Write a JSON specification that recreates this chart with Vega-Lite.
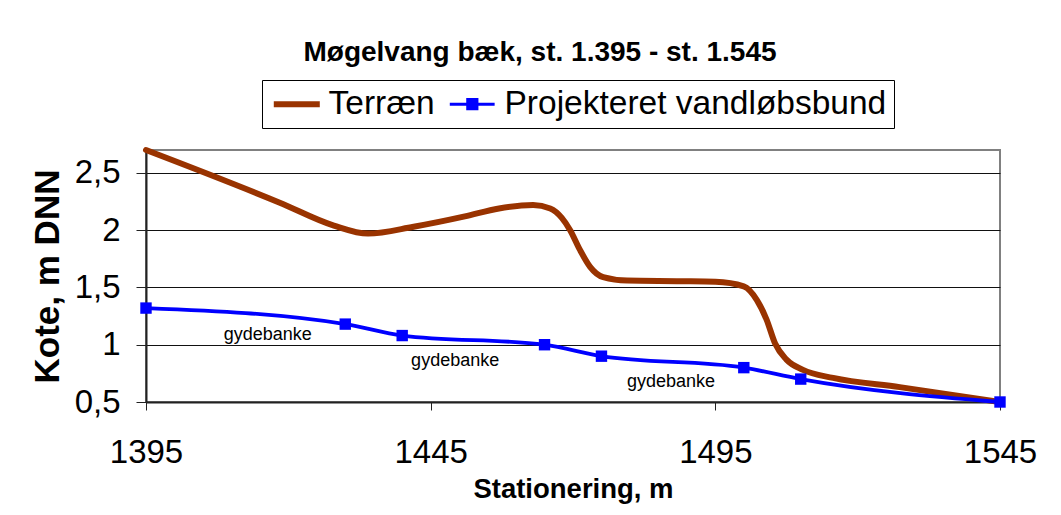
{
  "$schema": "https://vega.github.io/schema/vega-lite/v6.json",
  "width": 854,
  "height": 252,
  "autosize": {"type": "none"},
  "padding": {"left": 146, "top": 150, "right": 61, "bottom": 113},
  "background": "white",
  "config": {
    "font": "Liberation Sans",
    "view": {"stroke": "#808080", "strokeWidth": 2},
    "axis": {
      "labelFont": "Liberation Sans",
      "titleFont": "Liberation Sans",
      "labelColor": "black",
      "titleColor": "black",
      "domainColor": "#222222",
      "domainWidth": 2,
      "tickColor": "#222222",
      "tickWidth": 1,
      "gridColor": "#111111",
      "gridWidth": 1,
      "gridOpacity": 1
    }
  },
  "title": {
    "text": "Møgelvang bæk, st. 1.395 - st. 1.545",
    "font": "Liberation Sans",
    "fontSize": 28,
    "fontWeight": "bold",
    "color": "black",
    "anchor": "middle",
    "dx": -33,
    "offset": 13
  },
  "datasets": {
    "terraen": [
      {"st": 1395, "kote": 2.70, "serie": "Terræn"},
      {"st": 1418.5, "kote": 2.24, "serie": "Terræn"},
      {"st": 1428, "kote": 2.04, "serie": "Terræn"},
      {"st": 1434, "kote": 1.97, "serie": "Terræn"},
      {"st": 1442, "kote": 2.03, "serie": "Terræn"},
      {"st": 1451, "kote": 2.12, "serie": "Terræn"},
      {"st": 1457, "kote": 2.19, "serie": "Terræn"},
      {"st": 1463, "kote": 2.22, "serie": "Terræn"},
      {"st": 1466, "kote": 2.19, "serie": "Terræn"},
      {"st": 1468, "kote": 2.11, "serie": "Terræn"},
      {"st": 1469.5, "kote": 2.0, "serie": "Terræn"},
      {"st": 1471.2, "kote": 1.83, "serie": "Terræn"},
      {"st": 1473, "kote": 1.68, "serie": "Terræn"},
      {"st": 1475.3, "kote": 1.59, "serie": "Terræn"},
      {"st": 1479.5, "kote": 1.56, "serie": "Terræn"},
      {"st": 1489, "kote": 1.555, "serie": "Terræn"},
      {"st": 1495, "kote": 1.55, "serie": "Terræn"},
      {"st": 1500, "kote": 1.51, "serie": "Terræn"},
      {"st": 1502.3, "kote": 1.39, "serie": "Terræn"},
      {"st": 1504, "kote": 1.22, "serie": "Terræn"},
      {"st": 1505.5, "kote": 1.01, "serie": "Terræn"},
      {"st": 1507.5, "kote": 0.87, "serie": "Terræn"},
      {"st": 1510.4, "kote": 0.78, "serie": "Terræn"},
      {"st": 1515.7, "kote": 0.71, "serie": "Terræn"},
      {"st": 1527.4, "kote": 0.63, "serie": "Terræn"},
      {"st": 1545, "kote": 0.5, "serie": "Terræn"}
    ],
    "bund": [
      {"st": 1395, "kote": 1.32, "serie": "Projekteret vandløbsbund"},
      {"st": 1430, "kote": 1.18, "serie": "Projekteret vandløbsbund"},
      {"st": 1440, "kote": 1.08, "serie": "Projekteret vandløbsbund"},
      {"st": 1465, "kote": 1.0, "serie": "Projekteret vandløbsbund"},
      {"st": 1475, "kote": 0.9, "serie": "Projekteret vandløbsbund"},
      {"st": 1500, "kote": 0.8, "serie": "Projekteret vandløbsbund"},
      {"st": 1510, "kote": 0.7, "serie": "Projekteret vandløbsbund"},
      {"st": 1545, "kote": 0.5, "serie": "Projekteret vandløbsbund"}
    ],
    "labels": [
      {"st": 1416.4, "kote": 1.085, "tekst": "gydebanke"},
      {"st": 1449.3, "kote": 0.855, "tekst": "gydebanke"},
      {"st": 1487.2, "kote": 0.677, "tekst": "gydebanke"}
    ]
  },
  "encoding": {
    "x": {
      "field": "st",
      "type": "quantitative",
      "scale": {"domain": [1395, 1545], "nice": false, "zero": false},
      "axis": {
        "title": "Stationering, m",
        "titleFontSize": 27.5,
        "titleFontWeight": "bold",
        "titlePadding": 6,
        "values": [1395, 1445, 1495, 1545],
        "format": "d",
        "grid": false,
        "tickSize": 8,
        "labelFontSize": 33,
        "labelPadding": 26,
        "labelFlush": false
      }
    },
    "y": {
      "field": "kote",
      "type": "quantitative",
      "scale": {"domain": [0.5, 2.7], "nice": false, "zero": false},
      "axis": {
        "title": "Kote, m DNN",
        "titleFontSize": 35,
        "titleFontWeight": "bold",
        "titlePadding": 9,
        "values": [0.5, 1, 1.5, 2, 2.5],
        "grid": true,
        "tickSize": 10,
        "labelFontSize": 33,
        "labelPadding": 16,
        "labelFlush": false,
        "labelExpr": "replace(toString(datum.value), '.', ',')"
      }
    }
  },
  "layer": [
    {
      "data": {"name": "terraen"},
      "mark": {"type": "line", "interpolate": "monotone", "strokeWidth": 6, "strokeCap": "round", "clip": false},
      "encoding": {
        "color": {
          "field": "serie",
          "type": "nominal",
          "scale": {"domain": ["Terræn", "Projekteret vandløbsbund"], "range": ["#993300", "#0000ff"]},
          "legend": {
            "orient": "none",
            "legendX": 116,
            "legendY": -70,
            "direction": "horizontal",
            "columns": 2,
            "title": null,
            "labelFont": "Liberation Sans",
            "labelFontSize": 33.5,
            "labelColor": "black",
            "labelLimit": 0,
            "labelOffset": 26,
            "columnPadding": 8,
            "strokeColor": "black",
            "fillColor": "white",
            "padding": 7,
            "symbolSize": 2116,
            "symbolType": "stroke",
            "symbolStrokeWidth": 6,
            "encode": {
              "symbols": {
                "update": {
                  "shape": {"signal": "datum.value === 'Terræn' ? 'M-0.52,0H1.48' : 'M-0.52,0H1.43M0.26,-0.2H0.66V0.2H0.26Z'"},
                  "fill": {"signal": "datum.value === 'Terræn' ? 'transparent' : '#0000ff'"},
                  "stroke": {"signal": "datum.value === 'Terræn' ? '#993300' : '#0000ff'"},
                  "strokeWidth": {"signal": "datum.value === 'Terræn' ? 6 : 3"},
                  "opacity": {"value": 1}
                }
              }
            }
          }
        }
      }
    },
    {
      "data": {"name": "bund"},
      "mark": {"type": "line", "interpolate": "monotone", "strokeWidth": 3.8},
      "encoding": {
        "color": {"field": "serie", "type": "nominal"}
      }
    },
    {
      "data": {"name": "bund"},
      "mark": {"type": "point", "shape": "square", "filled": true, "size": 130, "opacity": 1, "color": "#0000ff", "clip": false}
    },
    {
      "data": {"name": "labels"},
      "mark": {"type": "text", "font": "Liberation Sans", "fontSize": 18, "color": "black", "align": "center", "baseline": "middle"},
      "encoding": {
        "text": {"field": "tekst", "type": "nominal"}
      }
    }
  ]
}
